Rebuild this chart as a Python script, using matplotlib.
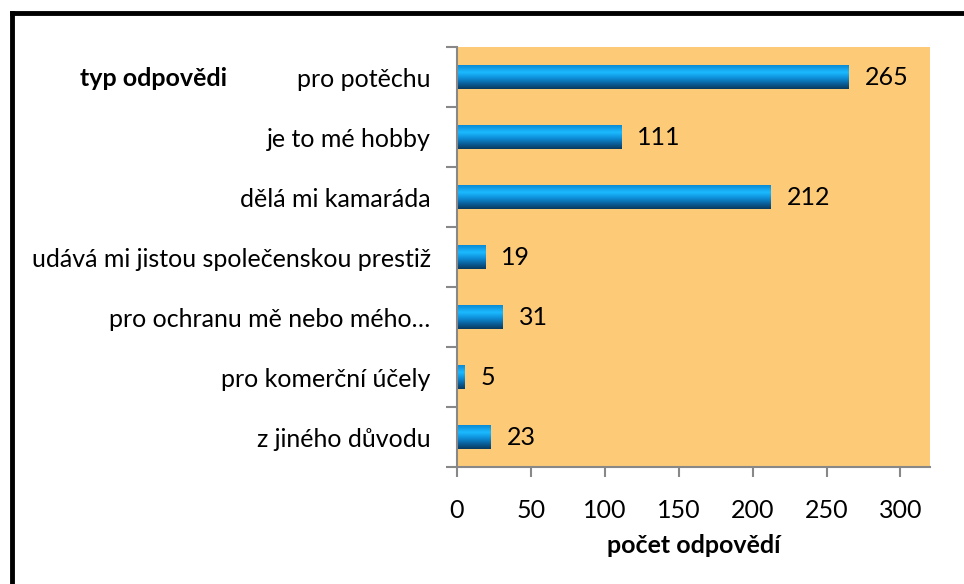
import matplotlib.pyplot as plt
import numpy as np
from matplotlib.colors import LinearSegmentedColormap
from matplotlib.lines import Line2D

plt.rcParams['font.family'] = ['Lato', 'DejaVu Sans']

categories = ["pro potěchu", "je to mé hobby", "dělá mi kamaráda",
              "udává mi jistou společenskou prestiž", "pro ochranu mě nebo mého…",
              "pro komerční účely", "z jiného důvodu"]
values = [265, 111, 212, 19, 31, 5, 23]
xticks = [0, 50, 100, 150, 200, 250, 300]

fs = 18

fig = plt.figure(figsize=(9.64, 5.84), dpi=100)
ax = fig.add_axes([457 / 964, 1 - 467 / 584, (930 - 457) / 964, (467 - 47) / 584])
ax.set_facecolor('#fdcb78')

y = np.arange(len(categories))
bars = ax.barh(y, values, height=0.4, color='none', edgecolor='none')

# cylinder-like gradient: top -> bottom
grad = LinearSegmentedColormap.from_list('cyl', [
    (0.0, '#0b8ad6'), (0.3, '#1cbaff'), (0.55, '#0d8ed8'),
    (0.8, '#0a5b94'), (1.0, '#083a5e')])
g = np.linspace(0, 1, 100).reshape(-1, 1)
for b in bars:
    x0, y0, w, h = b.get_x(), b.get_y(), b.get_width(), b.get_height()
    im = ax.imshow(g, cmap=grad, aspect='auto', extent=[x0, x0 + w, y0 + h, y0],
                   zorder=2)
    im.set_clip_path(b)

for yi, v in zip(y, values):
    ax.text(v + 11, yi, str(v), va='center', ha='left', fontsize=fs)

ax.set_xlim(0, 320)
ax.set_ylim(len(categories) - 0.5, -0.5)
ax.set_xticks(xticks)
ax.set_xticklabels([str(t) for t in xticks], fontsize=fs)
ax.set_yticks(y)
ax.set_yticklabels(categories, fontsize=fs)
ax.set_yticks(np.arange(len(categories) + 1) - 0.5, minor=True)
ax.tick_params(axis='y', which='major', length=0, pad=19)
ax.tick_params(axis='y', which='minor', length=8, color='#888888', width=1.5)
ax.tick_params(axis='x', length=7, color='#888888', width=1.5, pad=16)

for s in ['top', 'right']:
    ax.spines[s].set_visible(False)
for s in ['left', 'bottom']:
    ax.spines[s].set_color('#888888')
    ax.spines[s].set_linewidth(1.5)

ax.set_xlabel('počet odpovědí', fontsize=fs, fontweight='bold', labelpad=9)
fig.text(80 / 964, 1 - 79 / 584, 'typ odpovědi', fontsize=fs, fontweight='bold',
         ha='left', va='center')

# outer frame (top and left visible)
fig.add_artist(Line2D([12 / 964, 1], [1 - 13 / 584, 1 - 13 / 584], color='black', lw=3.5))
fig.add_artist(Line2D([12 / 964, 12 / 964], [0, 1 - 13 / 584], color='black', lw=3.5))

fig.savefig('out.png', dpi=100, facecolor='white')
